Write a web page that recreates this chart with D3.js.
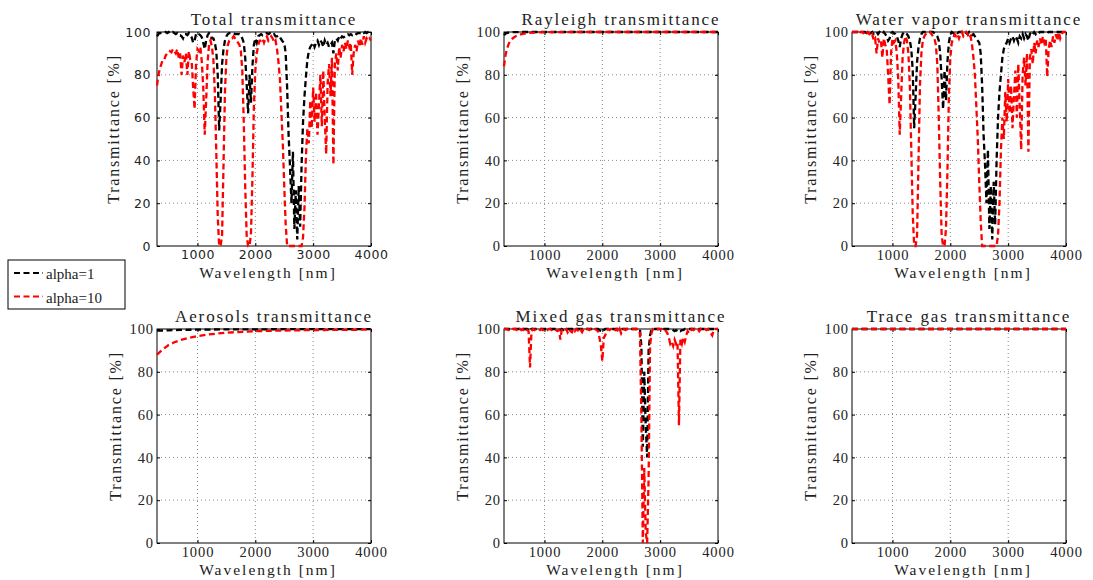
<!DOCTYPE html>
<html>
<head>
<meta charset="utf-8">
<script src="https://cdn.jsdelivr.net/npm/d3@7"></script>
<style>
body { margin: 0; background: #fff; }
text { fill: #222; }
</style>
</head>
<body>
<script>
// wavelength sampling grid [nm] for the band-structured panels
const wlGrid = d3.range(300, 4001, 25);

// Total transmittance [%]
const totalA1 = [
  98,99,99.5,99.5, 99.5,99.5,100,99.5, 100,99.5,99.5,100, 99.5,99,99.5,98.5,
  98.5,98,97,99, 99,98.5,99.5,98.5, 97.5,95,96,99, 99.5,99,98.5,97.5,
  95,92,96,98.5, 99.5,99,97,97, 95,91,80,54, 68,85,92,96,
  98,99,99.5,99.5, 99.5,99.5,99,99, 99,99,98.5,97, 95,88,76,62,
  80,67,84,94, 97,95,98,98.5, 99,98.5,99,99.5, 99.5,99,99.5,99,
  98.5,99,98,98, 98.5,97.5,96.5,95.5, 95,90,74,52, 37,20,44,8,
  26,3,28,9, 38,58,70,79, 87,91,93,94, 95,93,95,96,
  94,96,95,93, 96,94,95,93, 94,95,90,96, 97,96,98,97,
  98,97.5,98,98.5, 99,98.5,99,98.5, 99,99.5,99,99.5, 99.5,99.5,100,99.5,
  100,99.5,100,100, 100
];
const totalA10 = [
  75,80,83,85, 87,87,89,90, 90,91,90.5,92, 91,90,92,88,
  90,80,89,86, 90,80,91,87, 86,74,64,85, 92,91,93,86,
  74,52,68,86, 94,96,93,87, 72,44,14,0, 0,5,38,72,
  88,94,96,97, 97,98,97,96, 95,94,91,82, 58,28,5,0,
  0,6,32,65, 82,90,94,96, 96,97,95,97, 98,96,97,98,
  97,95,96,92, 86,78,63,48, 28,10,0,0, 0,0,0,0,
  0,0,0,0, 0,4,18,42, 55,48,68,55, 74,58,72,52,
  66,80,56,82, 60,43,76,85, 70,88,38,85, 90,82,93,88,
  94,91,95,92, 96,93,95,80, 90,94,91,96, 93,97,94,98,
  95,97,96,97, 96
];

// Water vapor transmittance [%]
const waterA1 = [
  100,100,100,100, 100,100,100,100, 100,100,99.5,100, 100,99.5,100,99,
  99,100,99,100, 99.5,99,100,99, 98,96,97,99.5, 100,99.5,99,98,
  96,93,97,99, 100,99.5,99,98, 96,92,82,55, 70,86,93,97,
  99,100,100,100, 100,100,100,100, 100,99.5,99,98, 96,90,78,64,
  82,68,86,95, 99,100,99.5,99, 100,99.5,100,100, 100,99.5,100,99.5,
  99,100,99,98.5, 99,98,97,96, 95,90,75,52, 38,20,45,8,
  28,3,30,10, 40,60,72,80, 88,92,94,95, 97,95,97,98,
  96,98,97,95, 98,97,99,97, 99,98,96,99, 100,99,100,99,
  100,99.5,100,100, 100,100,100,99.5, 100,100,100,100, 100,100,100,100,
  100,100,100,100, 100
];
const waterA10 = [
  100,100,100,100, 100,99,100,100, 99.5,100,99,100, 99,98,99,96,
  97,90,97,95, 96,88,97,94, 92,80,66,90, 97,95,96,90,
  78,52,70,88, 95,98,96,90, 75,45,15,0, 0,5,40,75,
  90,96,98,99, 100,100,100,99, 98,97,94,85, 60,30,5,0,
  0,8,35,70, 88,95,97,99, 98,99,97,99, 100,98,99,100,
  99,97,98,94, 88,80,65,50, 30,12,0,0, 0,0,0,0,
  0,0,0,0, 0,5,20,45, 60,50,72,58, 78,62,75,55,
  70,82,60,85, 65,45,80,88, 75,90,44,88, 92,85,95,90,
  96,93,97,94, 98,95,97,79, 92,96,93,98, 95,99,96,100,
  97,99,100,100, 100
];

// Mixed gas transmittance [%]
const mixedA1 = [
  100,100,100,100, 100,100,100,100, 100,100,100,100, 100,100,100,100,
  100,99.5,99,100, 100,100,100,100, 100,100,100,100, 100,100,100,100,
  100,100,100,100, 100,100,100,99.5, 100,99.5,100,100, 100,100,100,100,
  100,100,100,100, 100,100,100,100, 100,100,100,100, 100,100,100,100,
  100,100,99.5,99, 98.5,99.5,100,100, 100,100,100,100, 100,100,100,100,
  100,100,100,100, 100,100,100,100, 100,100,100,100, 100,100,100,92,
  45,80,55,40, 90,97,100,100, 100,100,100,100, 100,100,100,100,
  100,100,100,100, 100,99.5,99,99.5, 99,99.5,99,99.5, 99.5,100,100,100,
  100,100,100,100, 100,100,100,100, 100,100,100,100, 100,100,100,100,
  100,100,100,100, 100
];
const mixedA10 = [
  100,100,100,99.5, 100,99.5,100,100, 100,99.5,99,100, 99.5,100,99,100,
  99.5,99,82,99, 100,99.5,100,100, 100,99.5,100,99.5, 100,100,99.5,100,
  100,99.5,100,100, 99.5,99,99.5,95, 100,100,99.5,100, 98.5,100,99,98.5,
  100,99,100,99.5, 98.5,99.5,98.5,100, 99.5,100,100,99.5, 100,100,99.5,100,
  99.5,99,96,92, 85,96,97,99.5, 100,99.5,100,99.5, 100,99.5,100,98.5,
  100,98,99.5,100, 99.5,100,100,100, 100,100,100,100, 100,100,98,60,
  0,35,5,0, 30,92,98,100, 100,100,100,100, 100,100,99.5,100,
  99,98,96,93, 94,92,95,93, 94,55,95,93, 96,94,97,99,
  98,99,100,99.5, 100,99.5,100,99, 100,99.5,100,100, 99.5,100,99,98,
  97,99.5,100,100, 100
];

// smooth panels: own sparse wavelength lists
const rayleighWl = [300, 325, 350, 375, 400, 450, 500, 600, 700, 800, 1000, 1500, 2000, 3000, 4000];
const rayleighA1 = [98.5, 99.2, 99.5, 99.7, 99.8, 99.9, 99.95, 100, 100, 100, 100, 100, 100, 100, 100];
const rayleighA10 = [84, 89, 92, 94, 95.5, 97, 98, 99, 99.5, 99.7, 99.9, 100, 100, 100, 100];

const aerosolWl = [300, 400, 500, 600, 700, 800, 1000, 1200, 1500, 2000, 2500, 3000, 4000];
const aerosolA1 = [99.2, 99.3, 99.4, 99.5, 99.55, 99.6, 99.7, 99.75, 99.8, 99.85, 99.9, 99.9, 99.95];
const aerosolA10 = [88, 90.5, 92.5, 93.8, 94.8, 95.5, 96.7, 97.5, 98.3, 99.0, 99.3, 99.5, 99.7];

const traceWl = [300, 4000];
const traceA1 = [100, 100];
const traceA10 = [100, 100];

const xTicks = [1000, 2000, 3000, 4000];
const yTicks = [0, 20, 40, 60, 80, 100];
const seriesNames = ["alpha=1", "alpha=10"];
const seriesColors = ["#000000", "#ff0000"];

const width = 1093, height = 580;
const pw = 214, ph = 214;
const colX = [157, 504, 852], rowY = [32, 329];
const serif = "'Liberation Serif', 'Times New Roman', serif";

const panels = [
  {title: "Total transmittance", c: 0, r: 0, wl: wlGrid, s: [totalA1, totalA10], sans: true},
  {title: "Rayleigh transmittance", c: 1, r: 0, wl: rayleighWl, s: [rayleighA1, rayleighA10]},
  {title: "Water vapor transmittance", c: 2, r: 0, wl: wlGrid, s: [waterA1, waterA10]},
  {title: "Aerosols transmittance", c: 0, r: 1, wl: aerosolWl, s: [aerosolA1, aerosolA10]},
  {title: "Mixed gas transmittance", c: 1, r: 1, wl: wlGrid, s: [mixedA1, mixedA10]},
  {title: "Trace gas transmittance", c: 2, r: 1, wl: traceWl, s: [traceA1, traceA10]}
];

let svg = d3.select("body").append("svg")
  .attr("width", width)
  .attr("height", height);

let x = d3.scaleLinear().domain([300, 4000]).range([0, pw]);
let y = d3.scaleLinear().domain([0, 100]).range([ph, 0]);

panels.forEach(p => {
  let g = svg.append("g")
    .attr("transform", `translate(${colX[p.c]},${rowY[p.r]})`);
  let tickFont = p.sans ? "'DejaVu Sans', sans-serif" : serif;

  // dotted grid
  g.selectAll(".gx").data(xTicks.slice(0, 3)).enter().append("line")
    .attr("x1", d => x(d)).attr("x2", d => x(d))
    .attr("y1", 0).attr("y2", ph)
    .attr("stroke", "#888").attr("stroke-dasharray", "1,3");
  g.selectAll(".gy").data(yTicks.slice(1, 5)).enter().append("line")
    .attr("x1", 0).attr("x2", pw)
    .attr("y1", d => y(d)).attr("y2", d => y(d))
    .attr("stroke", "#888").attr("stroke-dasharray", "1,3");

  // axes, ticks pointing inward
  let ax = g.append("g").attr("transform", `translate(0,${ph})`)
    .call(d3.axisBottom(x).tickValues(xTicks).tickSizeInner(-3).tickSizeOuter(0).tickPadding(4).tickFormat(d3.format("d")));
  let ay = g.append("g")
    .call(d3.axisLeft(y).tickValues(yTicks).tickSizeInner(-3).tickSizeOuter(0).tickPadding(p.sans ? 6 : 3));
  g.append("g").call(d3.axisTop(x).tickValues(xTicks).tickSizeInner(-3).tickSizeOuter(0).tickFormat(""));
  g.append("g").attr("transform", `translate(${pw},0)`)
    .call(d3.axisRight(y).tickValues(yTicks).tickSizeInner(-3).tickSizeOuter(0).tickFormat(""));
  g.selectAll(".domain").remove();
  g.selectAll(".tick line").attr("stroke", "#000");
  [ax, ay].forEach(a => a.selectAll("text")
    .attr("font-family", tickFont)
    .attr("font-size", p.sans ? 12.5 : 14.5)
    .attr("letter-spacing", p.sans ? 0.6 : 0.9)
    .attr("fill", "#222"));

  g.append("rect")
    .attr("width", pw).attr("height", ph)
    .attr("fill", "none").attr("stroke", "#000").attr("stroke-width", 1);

  // dashed series
  let line = d3.line()
    .x((d, i) => x(p.wl[i]))
    .y(d => y(d));
  p.s.forEach((vals, k) => {
    g.append("path")
      .datum(vals)
      .attr("d", line)
      .attr("fill", "none")
      .attr("stroke", seriesColors[k])
      .attr("stroke-width", 2.3)
      .attr("stroke-dasharray", "6,3.5");
  });

  g.append("text")
    .attr("x", pw / 2 + 10).attr("y", -7)
    .attr("text-anchor", "middle")
    .attr("font-family", serif).attr("font-size", 17)
    .attr("letter-spacing", 1.9)
    .text(p.title);

  g.append("text")
    .attr("x", pw / 2 + 4).attr("y", ph + 32)
    .attr("text-anchor", "middle")
    .attr("font-family", serif).attr("font-size", 15.5)
    .attr("letter-spacing", 2)
    .text("Wavelength [nm]");

  g.append("text")
    .attr("transform", `translate(${p.sans ? -38 : -36},${ph / 2 - 10}) rotate(-90)`)
    .attr("text-anchor", "middle")
    .attr("font-family", serif).attr("font-size", 16)
    .attr("letter-spacing", 1.8)
    .text("Transmittance [%]");
});

// legend
let leg = svg.append("g");
leg.append("rect")
  .attr("x", 8).attr("y", 260).attr("width", 117).attr("height", 49)
  .attr("fill", "#fff").attr("stroke", "#000");
seriesNames.forEach((n, k) => {
  let ly = 273 + k * 23.5;
  leg.append("line")
    .attr("x1", 14).attr("x2", 43).attr("y1", ly).attr("y2", ly)
    .attr("stroke", seriesColors[k]).attr("stroke-width", 2)
    .attr("stroke-dasharray", "6,3.5");
  leg.append("text")
    .attr("x", 46).attr("y", ly + 6)
    .attr("font-family", serif).attr("font-size", 15)
    .text(n);
});
</script>
</body>
</html>
